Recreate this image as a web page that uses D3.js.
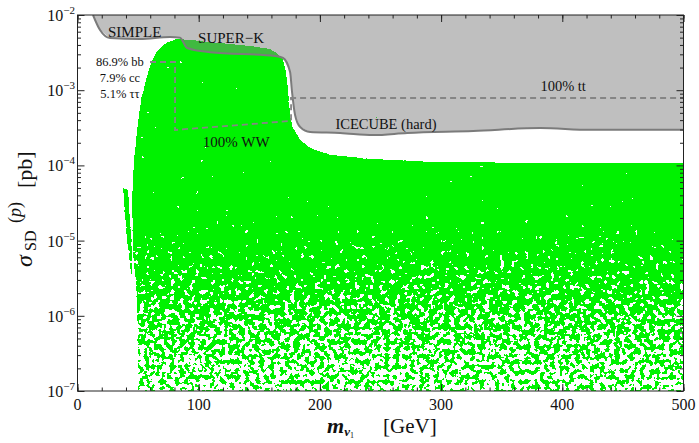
<!DOCTYPE html>
<html>
<head>
<meta charset="utf-8">
<script src="https://cdn.jsdelivr.net/npm/d3@7"></script>
<style>
  body { margin: 0; background: #fff; }
  text { font-family: "Liberation Serif", "DejaVu Serif", serif; fill: #111; }
</style>
</head>
<body>
<svg id="chart" width="699" height="443"></svg>
<script>
// allowed scan points: upper outline of the green region (m in GeV, sigma in pb)
const greenX = [50, 49.1, 45.8, 45.0, 46.6, 49.1, 52.4, 56.5, 60.7, 66.4, 73.0, 81.3, 92.9, 117.6, 142.4, 158.9, 165.5,
                169.6, 172.1, 173.8, 175.4, 177.9, 183.7, 191.9, 208.4, 241.4, 299.2, 398.3, 500]
const greenY = [1e-7, 1.62e-6, 7.5e-6, 3.47e-5, 1.18e-4, 2.96e-4, 7.4e-4, 1.37e-3, 2.37e-3, 3.42e-3, 4.24e-3, 4.8e-3, 4.65e-3,
                4.24e-3, 3.87e-3, 3.53e-3, 3.03e-3, 2.52e-3, 1.75e-3, 9.46e-4, 4.68e-4, 3.14e-4, 2.18e-4, 1.7e-4, 1.37e-4,
                1.22e-4, 1.11e-4, 1.08e-4, 1.08e-4]
// thin resonance strip near m ~ 40 GeV
const stripX = [37.6, 40.0, 44.2, 45.0, 45.0, 41.7]
const stripY = [5.0e-5, 1.38e-5, 3.49e-6, 2.7e-6, 7.5e-6, 4.7e-5]

// SIMPLE / SUPER-K / ICECUBE (hard) exclusion boundary
const limitX = [12.8, 18.6, 26.8, 51.6, 76.4, 84.6, 90.4, 109.4, 163, 169.6, 175.4, 177, 179.5, 183.7, 191.9, 216.7,
                244, 272, 326.6, 381.8, 423, 500]
const limitY = [1e-2, 6.3e-3, 4.94e-3, 4.8e-3, 5.1e-3, 5.0e-3, 3.64e-3, 3.2e-3, 2.85e-3, 2.68e-3, 1.75e-3, 9.5e-4,
                4.68e-4, 3.24e-4, 2.78e-4, 2.7e-4, 2.53e-4, 2.7e-4, 2.87e-4, 3.14e-4, 2.97e-4, 2.97e-4]

// dashed channel lines
const ttX = [175.4, 500], ttY = [7.87e-4, 7.87e-4]
const bbX = [59.8, 80.5, 80.5, 176.2, 176.2], bbY = [2.37e-3, 2.37e-3, 2.96e-4, 3.9e-4, 7.87e-4]

const xTicks = [0, 100, 200, 300, 400, 500]
const yExps = [-7, -6, -5, -4, -3, -2]

const labels = [
  { t: 'SIMPLE', x: 25.2, y: 5.1e-3, a: 'start', s: 15 },
  { t: 'SUPER\u2212K', x: 99.5, y: 4.25e-3, a: 'start', s: 15 },
  { t: '86.9% bb', x: 35, y: 2.1e-3, a: 'middle', s: 12.5 },
  { t: '7.9% cc', x: 35, y: 1.29e-3, a: 'middle', s: 12.5 },
  { t: '5.1% \u03c4\u03c4', x: 35, y: 7.9e-4, a: 'middle', s: 12.5 },
  { t: '100% WW', x: 131, y: 1.76e-4, a: 'middle', s: 15 },
  { t: 'ICECUBE (hard)', x: 212.8, y: 3.05e-4, a: 'start', s: 14.5 },
  { t: '100% tt', x: 400.7, y: 9.8e-4, a: 'middle', s: 14.5 }
]

const pL = 77.5, pR = 683.5, pT = 15, pB = 391

const x = d3.scaleLinear().domain([0, 500]).range([pL, pR])
const y = d3.scaleLog().domain([1e-7, 1e-2]).range([pB, pT])

const svg = d3.select('#chart')
const defs = svg.append('defs')

defs.append('clipPath').attr('id', 'plot')
  .append('rect').attr('x', pL).attr('y', pT).attr('width', pR - pL).attr('height', pB - pT)

// density fade towards small cross sections
const grad = defs.append('linearGradient').attr('id', 'fade')
  .attr('gradientUnits', 'userSpaceOnUse')
  .attr('x1', 0).attr('x2', 0).attr('y1', y(3e-5)).attr('y2', y(1e-7))
grad.append('stop').attr('offset', 0).attr('stop-color', '#00ff00').attr('stop-opacity', 1)
grad.append('stop').attr('offset', 0.35).attr('stop-color', '#00ff00').attr('stop-opacity', 0.78)
grad.append('stop').attr('offset', 0.65).attr('stop-color', '#00ff00').attr('stop-opacity', 0.6)
grad.append('stop').attr('offset', 1).attr('stop-color', '#00ff00').attr('stop-opacity', 0.5)

// scattered look of the scan points
const f = defs.append('filter').attr('id', 'speckle')
  .attr('filterUnits', 'userSpaceOnUse')
  .attr('x', pL).attr('y', pT).attr('width', pR - pL).attr('height', pB - pT)
  .attr('color-interpolation-filters', 'sRGB')
f.append('feTurbulence').attr('type', 'fractalNoise').attr('baseFrequency', 0.2)
  .attr('numOctaves', 2).attr('seed', 5).attr('result', 'noise')
f.append('feColorMatrix').attr('in', 'noise').attr('type', 'matrix')
  .attr('values', '0 0 0 0 0  0 0 0 0 0  0 0 0 0 0  1 0 0 0 0').attr('result', 'na')
f.append('feComposite').attr('in', 'SourceAlpha').attr('in2', 'na').attr('operator', 'arithmetic')
  .attr('k1', 0).attr('k2', 1).attr('k3', 1.4).attr('k4', -0.75).attr('result', 'sum')
f.append('feComponentTransfer').attr('in', 'sum').attr('result', 'mask')
  .append('feFuncA').attr('type', 'discrete').attr('tableValues', '0 1')
f.append('feFlood').attr('flood-color', '#00f200').attr('result', 'green')
f.append('feComposite').attr('in', 'green').attr('in2', 'mask').attr('operator', 'in')

const line = d3.line().x(d => x(d[0])).y(d => y(d[1]))
const zip = (a, b) => a.map((v, i) => [v, b[i]])

const plot = svg.append('g').attr('clip-path', 'url(#plot)')

// green points
const greenPts = zip(greenX, greenY).concat([[500, 1e-7]])
const gg = plot.append('g').attr('filter', 'url(#speckle)')
gg.append('path').attr('d', line(greenPts) + 'Z').attr('fill', 'url(#fade)')
gg.append('path').attr('d', line(zip(stripX, stripY)) + 'Z').attr('fill', 'url(#fade)')

// excluded region
const limitPts = zip(limitX, limitY)
plot.append('path')
  .attr('d', line(limitPts.concat([[500, 1e-2]])) + 'Z')
  .attr('fill', '#808080').attr('fill-opacity', 0.5)
plot.append('path')
  .attr('d', line.curve(d3.curveMonotoneX)(limitPts))
  .attr('fill', 'none').attr('stroke', '#7b7b7b').attr('stroke-width', 2)
line.curve(d3.curveLinear)

// dashed channel lines
plot.append('path').attr('d', line(zip(ttX, ttY)))
  .attr('fill', 'none').attr('stroke', '#858585').attr('stroke-width', 1.8).attr('stroke-dasharray', '6,4')
plot.append('path').attr('d', line(zip(bbX, bbY)))
  .attr('fill', 'none').attr('stroke', '#858585').attr('stroke-width', 1.8).attr('stroke-dasharray', '6,4')

// labels
svg.append('g').selectAll('text').data(labels).enter().append('text')
  .attr('x', d => x(d.x)).attr('y', d => y(d.y))
  .attr('text-anchor', d => d.a).attr('font-size', d => d.s)
  .text(d => d.t)

// axes, ticks inside
const minorX = d3.range(0, 501, 20)
const minorY = []
yExps.forEach(e => { if (e < -2) d3.range(2, 10).forEach(k => minorY.push(k * Math.pow(10, e))) })
const majorY = yExps.map(e => Math.pow(10, e))

function ticks(axis, vals, size, tr) {
  const g = svg.append('g').attr('transform', tr)
    .call(axis.tickValues(vals).tickSize(-size).tickFormat(''))
  g.select('.domain').remove()
  g.selectAll('line').attr('stroke', '#222')
}
ticks(d3.axisBottom(x), minorX, 3.5, `translate(0,${pB})`)
ticks(d3.axisBottom(x), xTicks, 7, `translate(0,${pB})`)
ticks(d3.axisTop(x), minorX, 3.5, `translate(0,${pT})`)
ticks(d3.axisTop(x), xTicks, 7, `translate(0,${pT})`)
ticks(d3.axisLeft(y), minorY, 3.5, `translate(${pL},0)`)
ticks(d3.axisLeft(y), majorY, 7, `translate(${pL},0)`)
ticks(d3.axisRight(y), minorY, 3.5, `translate(${pR},0)`)
ticks(d3.axisRight(y), majorY, 7, `translate(${pR},0)`)

svg.append('rect').attr('x', pL).attr('y', pT).attr('width', pR - pL).attr('height', pB - pT)
  .attr('fill', 'none').attr('stroke', '#222').attr('stroke-width', 1)

// tick labels
svg.append('g').selectAll('text').data(xTicks).enter().append('text')
  .attr('x', d => x(d)).attr('y', 410).attr('text-anchor', 'middle').attr('font-size', 16)
  .text(d => d)

const yl = svg.append('g').selectAll('text').data(yExps).enter().append('text')
  .attr('x', 75).attr('y', d => y(Math.pow(10, d)) + 6).attr('text-anchor', 'end').attr('font-size', 16)
yl.append('tspan').text('10')
yl.append('tspan').attr('dy', -7).attr('font-size', 11).text(d => '\u2212' + (-d))

// axis titles
const xt = svg.append('text').attr('x', 327).attr('y', 433).attr('font-size', 22)
xt.append('tspan').attr('font-style', 'italic').attr('font-weight', 'bold').text('m')
xt.append('tspan').attr('font-style', 'italic').attr('font-weight', 'bold').attr('font-size', 13).attr('dy', 3).text('\u03bd')
xt.append('tspan').attr('font-size', 8).attr('dy', 2).text('1')
xt.append('tspan').attr('x', 383).attr('dy', -5).attr('font-size', 21).text('[GeV]')

const yt = svg.append('text').attr('transform', 'translate(32,267) rotate(-90)').attr('font-size', 24)
yt.append('tspan').attr('x', 0).attr('font-style', 'italic').text('\u03c3')
yt.append('tspan').attr('x', 16).attr('font-size', 16).attr('dy', 4).text('SD')
yt.append('tspan').attr('x', 44).attr('font-size', 18).attr('dy', -15).text('(')
yt.append('tspan').attr('font-size', 18).attr('font-style', 'italic').text('p')
yt.append('tspan').attr('font-size', 18).text(')')
yt.append('tspan').attr('x', 79).attr('font-size', 22).attr('dy', 11).text('[pb]')
</script>
</body>
</html>
